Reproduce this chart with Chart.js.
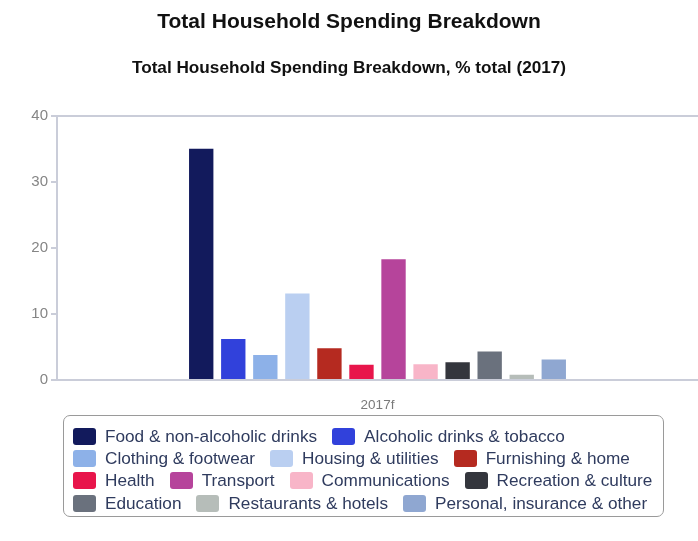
<!DOCTYPE html>
<html>
<head>
<meta charset="utf-8">
<script src="https://cdn.jsdelivr.net/npm/chart.js@4.4.1/dist/chart.umd.min.js"></script>
<style>
  body { margin: 0; background: #fff; }
  #wrap { position: relative; width: 698px; height: 541px; }
  #legend {
    position: absolute; left: 63px; top: 415px; width: 601px; height: 102px;
    box-sizing: border-box; border: 1.5px solid #9a9a9a; border-radius: 7px;
    padding: 9px 0 0 9px;
    font-family: "Liberation Sans", Arial, sans-serif; font-size: 17.2px; color: #2f3b5e;
  }
  .row { display: flex; height: 22.3px; align-items: center; }
  .item { display: flex; align-items: center; margin-right: 15px; white-space: nowrap; }
  .swatch { width: 23px; height: 17px; border-radius: 3px; margin-right: 9px; }
</style>
</head>
<body>
<div id="wrap">
  <canvas id="spendChart" width="698" height="541"></canvas>
  <div id="legend"></div>
</div>
<script>
var periods = ["2017f"];
var categories = [
  "Food & non-alcoholic drinks", "Alcoholic drinks & tobacco", "Clothing & footwear",
  "Housing & utilities", "Furnishing & home", "Health", "Transport", "Communications",
  "Recreation & culture", "Education", "Restaurants & hotels", "Personal, insurance & other"
];
var shares = [35.0, 6.2, 3.8, 13.1, 4.8, 2.3, 18.3, 2.4, 2.7, 4.3, 0.8, 3.1];
var yTicks = [0, 10, 20, 30, 40];

var colors = [
  "#121a5c", "#3141db", "#8db1e8", "#bacff1", "#b52a20", "#e8154b",
  "#b6449b", "#f8b5c8", "#34363d", "#6a717d", "#b6bdb9", "#8fa7d1"
];
// where the legend starts a new line
var legendBreaks = [2, 5, 9];

var axisColor = "#cacdd9";

var ctx = document.getElementById("spendChart").getContext("2d");

var chart = new Chart(ctx, {
  type: "bar",
  data: {
    labels: periods,
    datasets: categories.map(function (name, i) {
      return {
        label: name,
        data: [shares[i]],
        backgroundColor: colors[i],
        borderWidth: 0,
        categoryPercentage: 0.6,
        barPercentage: 0.76,
      };
    }),
  },
  options: {
    responsive: false,
    animation: false,
    layout: { padding: { left: 0, right: 0, top: 0, bottom: 121 } },
    scales: {
      x: {
        afterFit: function (s) { s.height = 40; },
        grid: { display: false },
        border: { color: axisColor, width: 2 },
        ticks: {
          padding: 9,
          color: "#7a7a7a",
          font: { family: "Liberation Sans", size: 13.5 },
        },
      },
      y: {
        min: 0,
        max: 40,
        afterFit: function (s) { s.width = 57; },
        afterBuildTicks: function (s) {
          s.ticks = yTicks.map(function (v) { return { value: v }; });
        },
        border: { color: axisColor, width: 2 },
        grid: {
          color: function (c) { return c.tick && c.tick.value === 40 ? axisColor : "transparent"; },
          tickColor: axisColor,
          tickLength: 6,
          lineWidth: 2,
        },
        ticks: {
          padding: 3,
          color: "#858585",
          font: { family: "Liberation Sans", size: 15 },
        },
      },
    },
    plugins: {
      legend: { display: false },
      tooltip: { enabled: false },
      title: {
        display: true,
        text: "Total Household Spending Breakdown",
        color: "#111",
        font: { family: "Liberation Sans", size: 21, weight: "bold" },
        padding: { top: 10, bottom: 17 },
      },
      subtitle: {
        display: true,
        text: "Total Household Spending Breakdown, % total (2017)",
        color: "#111",
        font: { family: "Liberation Sans", size: 17.2, weight: "bold" },
        padding: { top: 6, bottom: 37 },
      },
    },
  },
});

// legend box under the chart
var legend = document.getElementById("legend");
var row = null;
categories.forEach(function (name, i) {
  if (i === 0 || legendBreaks.indexOf(i) >= 0) {
    row = document.createElement("div");
    row.className = "row";
    legend.appendChild(row);
  }
  var item = document.createElement("div");
  item.className = "item";
  var sw = document.createElement("span");
  sw.className = "swatch";
  sw.style.background = colors[i];
  item.appendChild(sw);
  item.appendChild(document.createTextNode(name));
  row.appendChild(item);
});
</script>
</body>
</html>
